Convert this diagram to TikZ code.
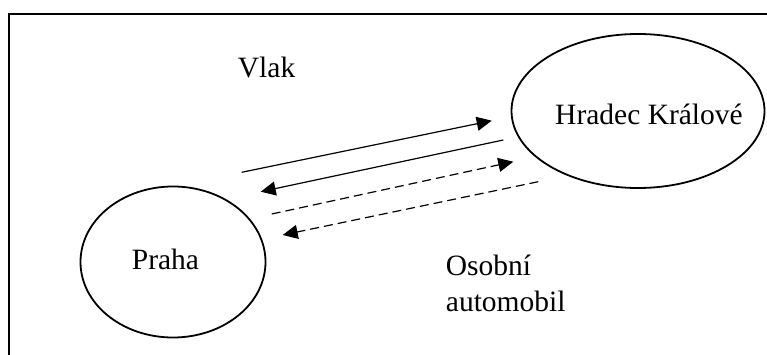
\documentclass[tikz,border=0pt]{standalone}
\usepackage{fontspec}
\setmainfont{Liberation Serif}
\usetikzlibrary{shapes.geometric,arrows.meta}
\begin{document}
\begin{tikzpicture}[x=1pt,y=-1pt,
  place/.style={draw,ellipse,line width=1.8pt,inner sep=0pt},
  lbl/.style={anchor=base west,font=\fontsize{29.5}{36.7}\selectfont,inner sep=0pt},
  flow/.style={line width=1.2pt,-{Triangle[length=15pt,width=14pt]}},
  flowdash/.style={flow,dash pattern=on 9pt off 5pt}]
\useasboundingbox (0,0) rectangle (767,355);
% frame (top and left edges)
\draw[line width=2.5pt] (9,355) -- (9,14) -- (767,14);

% places
\node[place,minimum width=185pt,minimum height=151pt] (praha) at (173,262) {};
\node[place,minimum width=253pt,minimum height=154pt] (hk) at (638,111) {};
\node[lbl] (prahatext) at (131.7,269) {Praha};
\node[lbl] (hktext) at (555,124.3) {Hradec Králové};

% captions
\node[lbl] (vlak) at (237.7,77.3) {Vlak};
\node[lbl,align=left] (auto) at (445.7,311.7) {Osobní\\automobil};

% train connections
\coordinate (t1s) at (241.7,172.3);
\coordinate (t1e) at (491.7,120.7);
\coordinate (t2s) at (503.3,140);
\coordinate (t2e) at (260.7,191.7);
\draw[flow] (t1s) -- (t1e);
\draw[flow] (t2s) -- (t2e);

% car connections
\coordinate (c1s) at (271.7,214);
\coordinate (c1e) at (513.3,161.7);
\coordinate (c2s) at (538.3,181.7);
\coordinate (c2e) at (282.7,235);
\draw[flowdash] (c1s) -- (c1e);
\draw[flowdash] (c2s) -- (c2e);
\end{tikzpicture}
\end{document}
